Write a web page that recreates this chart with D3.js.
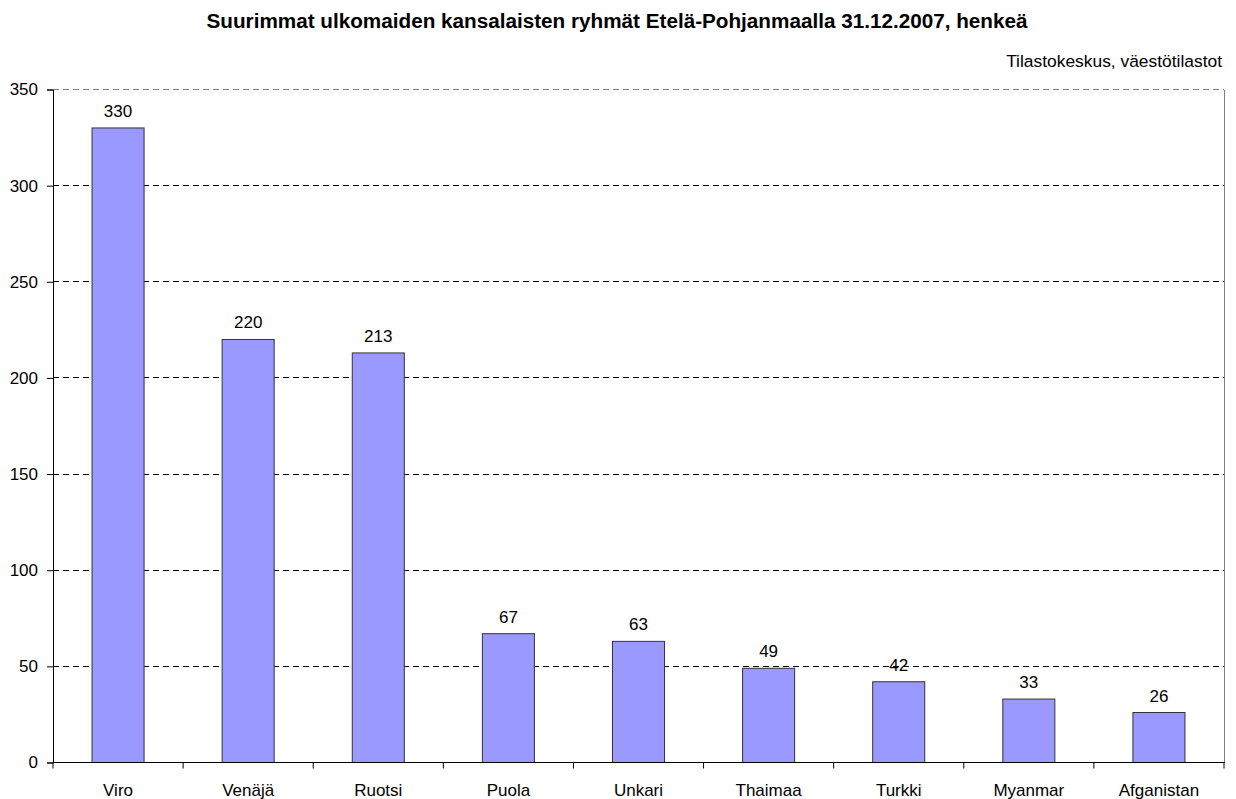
<!DOCTYPE html>
<html>
<head>
    <meta http-equiv="content-type" content="text/html; charset=utf-8" />
    <style>
        body { margin: 0; background: #fff; }
        svg text { font-family: "Liberation Sans", Arial, sans-serif; fill: #000; }
    </style>
</head>
<body>
    <svg width="1236" height="799"></svg>
    <script src="https://d3js.org/d3.v7.min.js"></script>
    <script>
        const countries = ['Viro', 'Venäjä', 'Ruotsi', 'Puola', 'Unkari', 'Thaimaa', 'Turkki', 'Myanmar', 'Afganistan']
        const persons = [330, 220, 213, 67, 63, 49, 42, 33, 26]
        const yTicks = [0, 50, 100, 150, 200, 250, 300, 350]

        const svg = d3.select('svg')
        const pLeft = 53, pRight = 1224, pTop = 89.5, pBottom = 762.5

        const x = d3.scaleBand().domain(countries).range([pLeft, pRight]).paddingInner(0.6).paddingOuter(0.3)
        const y = d3.scaleLinear().domain([0, 350]).range([pBottom, pTop])

        // otsikko
        svg.append('text')
            .attr('x', 617).attr('y', 28)
            .attr('text-anchor', 'middle')
            .style('font-size', '20.7px').style('font-weight', 'bold')
            .text('Suurimmat ulkomaiden kansalaisten ryhmät Etelä-Pohjanmaalla 31.12.2007, henkeä')

        svg.append('text')
            .attr('x', 1222).attr('y', 67)
            .attr('text-anchor', 'end')
            .style('font-size', '17.4px')
            .text('Tilastokeskus, väestötilastot')

        // ruudukko
        svg.append('g').selectAll('line')
            .data(yTicks.filter(d => d > 0))
            .join('line')
            .attr('x1', pLeft).attr('x2', pRight)
            .attr('y1', d => y(d)).attr('y2', d => y(d))
            .attr('stroke', d => d === 350 ? '#808080' : '#000')
            .attr('stroke-dasharray', '6,4')
            .attr('shape-rendering', 'crispEdges')

        svg.append('line')
            .attr('x1', pRight).attr('x2', pRight).attr('y1', pTop).attr('y2', pBottom)
            .attr('stroke', '#808080').attr('shape-rendering', 'crispEdges')

        // pylväät
        svg.append('g').selectAll('rect')
            .data(persons)
            .join('rect')
            .attr('x', (d, i) => x(countries[i]))
            .attr('width', x.bandwidth())
            .attr('y', d => y(d))
            .attr('height', d => y(0) - y(d))
            .attr('fill', '#9999FF')
            .attr('stroke', '#333')
            .attr('stroke-width', 1)

        svg.append('g').selectAll('text')
            .data(persons)
            .join('text')
            .attr('x', (d, i) => x(countries[i]) + x.bandwidth() / 2)
            .attr('y', d => y(d) - 11)
            .attr('text-anchor', 'middle')
            .style('font-size', '17px')
            .text(d => d)

        // akselit
        const yAxis = d3.axisLeft(y).tickValues(yTicks).tickSize(6).tickPadding(9)
        const gy = svg.append('g').attr('transform', `translate(${pLeft},0)`).call(yAxis)
        gy.select('.domain').attr('stroke', '#000')
        gy.selectAll('text').style('font-size', '17px').style('font-family', '"Liberation Sans", Arial, sans-serif')

        const step = (pRight - pLeft) / countries.length
        const gx = svg.append('g').attr('transform', `translate(0,${pBottom})`)
        gx.append('line').attr('x1', pLeft).attr('x2', pRight + 1).attr('stroke', '#000')
        gx.selectAll('.tk')
            .data(d3.range(countries.length + 1))
            .join('line')
            .attr('class', 'tk')
            .attr('x1', i => pLeft + i * step).attr('x2', i => pLeft + i * step)
            .attr('y1', 0).attr('y2', 6)
            .attr('stroke', '#000')
        gx.selectAll('text')
            .data(countries)
            .join('text')
            .attr('x', d => x(d) + x.bandwidth() / 2)
            .attr('y', 33)
            .attr('text-anchor', 'middle')
            .style('font-size', '17px')
            .text(d => d)
    </script>
</body>
</html>
